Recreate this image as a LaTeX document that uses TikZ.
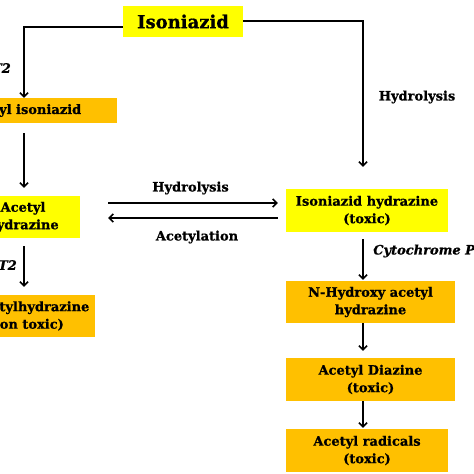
\documentclass[tikz,border=0pt]{standalone}
\usepackage{fontspec}
\setmainfont{DejaVu Serif}[BoldFeatures={FakeBold=0.8},BoldItalicFeatures={FakeBold=0.8}]
\usetikzlibrary{arrows.meta,calc}
\definecolor{yel}{RGB}{255,255,0}
\definecolor{org}{RGB}{255,192,0}
\begin{document}
\begin{tikzpicture}[x=1pt,y=-1pt,
  box/.style={inner sep=0pt, align=center, font=\bfseries\fontsize{13}{17.5}\selectfont},
  ybox/.style={box, fill=yel},
  obox/.style={box, fill=org},
  lbl/.style={inner sep=0pt, font=\bfseries\fontsize{13}{15}\selectfont},
  ilbl/.style={inner sep=0pt, font=\bfseries\itshape\fontsize{13}{15}\selectfont},
  arr/.style={line width=1.5pt, -{Straight Barb[length=4pt,width=8pt,line width=1.5pt]}}]
\useasboundingbox (0,0) rectangle (474,474);
\clip (0,0) rectangle (474,474);
\fill[white] (0,0) rectangle (474,474);
% nodes
\node[ybox, minimum width=120pt, minimum height=31pt, font=\bfseries\fontsize{18}{20}\selectfont] (iso) at (183,21.5) {Isoniazid};
\node[obox, minimum width=186pt, minimum height=25pt] (ai) at (24,110.5) {Acetyl isoniazid};
\node[ybox, minimum width=114pt, minimum height=42pt] (ah) at (23,217) {Acetyl\\hydrazine};
\node[obox, minimum width=142pt, minimum height=42pt] (dah) at (24,316) {Diacetylhydrazine\\(non toxic)};
\node[ybox, minimum width=162pt, minimum height=43pt] (ih) at (367,210.5) {Isoniazid hydrazine\\(toxic)};
\node[obox, minimum width=169pt, minimum height=42pt] (nh) at (370.5,302) {N-Hydroxy acetyl\\hydrazine};
\node[obox, minimum width=169pt, minimum height=43pt] (ad) at (370.5,379.5) {Acetyl Diazine\\(toxic)};
\node[obox, minimum width=162pt, minimum height=43pt] (ar) at (367,450.5) {Acetyl radicals\\(toxic)};
\coordinate (ax) at (363,0);
\coordinate (lx) at (24,0);
% labels
\node[ilbl, anchor=east] (nat1) at (11,68) {NAT2};
\node[ilbl, anchor=east] (nat2) at (17,265) {NAT2};
\node[lbl] (hyd1) at (417,97) {Hydrolysis};
\node[lbl] (hyd2) at (190.5,188) {Hydrolysis};
\node[lbl] (acet) at (197,237) {Acetylation};
\node[ilbl, anchor=west] (cyp) at (373,251) {Cytochrome P450};
% connectors
\draw[arr] ($(iso.west)+(0,5.5)$) -| (ai.north);
\draw[arr, shorten >=22pt] ($(iso.east)+(0,-0.5)$) -| (ax |- ih.north);
\draw[arr, shorten <=10pt, shorten >=8pt] (ai.south) -- (ah.north -| lx);
\draw[arr, shorten <=8pt, shorten >=8pt] (ah.south -| lx) -- (dah.north);
\draw[arr, shorten <=28pt, shorten >=8pt] ($(ah.east)+(0,-14)$) -- ($(ih.west)+(0,-7.5)$);
\draw[arr, shorten <=8pt, shorten >=28pt] ($(ih.west)+(0,7.5)$) -- ($(ah.east)+(0,1)$);
\draw[arr, shorten <=7pt, shorten >=1pt] (ih.south -| ax) -- (nh.north -| ax);
\draw[arr, shorten >=7pt] (nh.south -| ax) -- (ad.north -| ax);
\draw[arr, shorten >=1pt] (ad.south -| ax) -- (ar.north -| ax);
\end{tikzpicture}
\end{document}
